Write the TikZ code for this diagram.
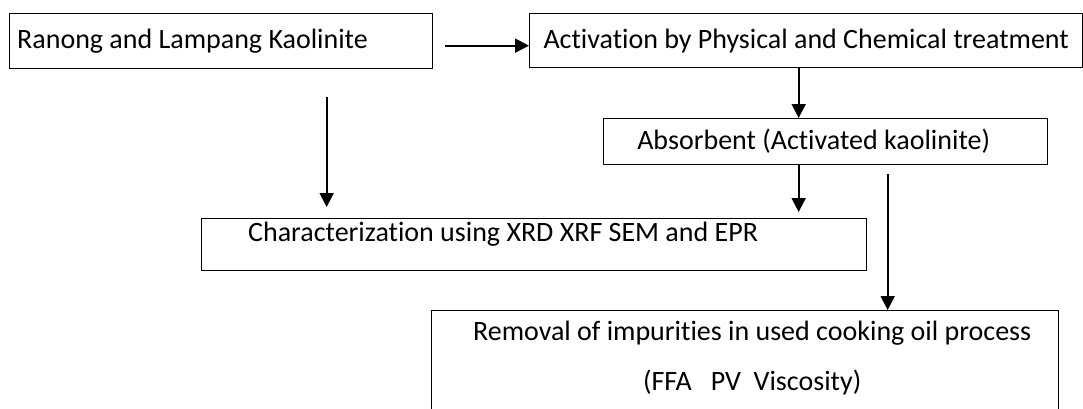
\documentclass[tikz,border=0pt]{standalone}
\usepackage{fontspec}
\setmainfont{Carlito}[Ligatures=NoCommon]
\usetikzlibrary{positioning,arrows.meta}

\begin{document}
\begin{tikzpicture}[x=1pt,y=-1pt,
  box/.style={draw,line width=1.3pt,inner sep=0pt,anchor=north west},
  lbl/.style={font=\fontsize{28}{32}\selectfont,inner sep=0pt},
  arr/.style={-{Triangle[length=14pt,width=14pt]},line width=2pt}]
\useasboundingbox (0,0) rectangle (1083,408);
\clip (0,0) rectangle (1083,408);
% Kaolinite flow
\node[box,minimum width=423pt,minimum height=55pt] (ranong) at (9,13) {};
\node[box,minimum width=553pt,minimum height=54pt] (activ) at (529,13) {};
\node[box,minimum width=444pt,minimum height=46pt] (absorb) at (603,118) {};
\node[box,minimum width=665pt,minimum height=52pt] (charac) at (201,218) {};
\node[box,minimum width=627pt,minimum height=130pt] (removal) at (431,310) {};
\node[lbl,anchor=west] (ranongtxt) at ([xshift=8pt]ranong.west) {Ranong and Lampang Kaolinite};
\node[lbl] (activtxt) at (activ.center) {Activation by Physical and Chemical treatment};
\node[lbl] (absorbtxt) at ([xshift=-12pt]absorb.center) {Absorbent (Activated kaolinite)};
\node[lbl,anchor=west] (charactxt) at ([xshift=47pt,yshift=-16pt]charac.north west) {Characterization using XRD XRF SEM and EPR};
\node[lbl] (removaltxt) at ([xshift=7pt,yshift=-23pt]removal.north) {Removal of impurities in used cooking oil process};
\node[lbl] (ffatxt) at ([xshift=7pt,yshift=-73pt]removal.north) {(FFA\ \ \ PV\ \ Viscosity)};
\draw[arr] ([xshift=12pt,yshift=-4.5pt]ranong.east) -- ([yshift=-5pt]activ.west);
\draw[arr] ([xshift=-7.5pt]activ.south) -- ([xshift=-7.5pt]activ.south |- absorb.north);
\draw[arr] ([xshift=-27pt]absorb.south) -- ([xshift=-27pt,yshift=6pt]absorb.south |- charac.north);
\draw[arr] ([xshift=105.5pt,yshift=-28pt]ranong.south) -- ([xshift=105.5pt,yshift=11pt]ranong.south |- charac.north);
\draw[arr] ([xshift=62pt,yshift=-9pt]absorb.south) -- ([xshift=62pt]absorb.south |- removal.north);
\end{tikzpicture}
\end{document}
